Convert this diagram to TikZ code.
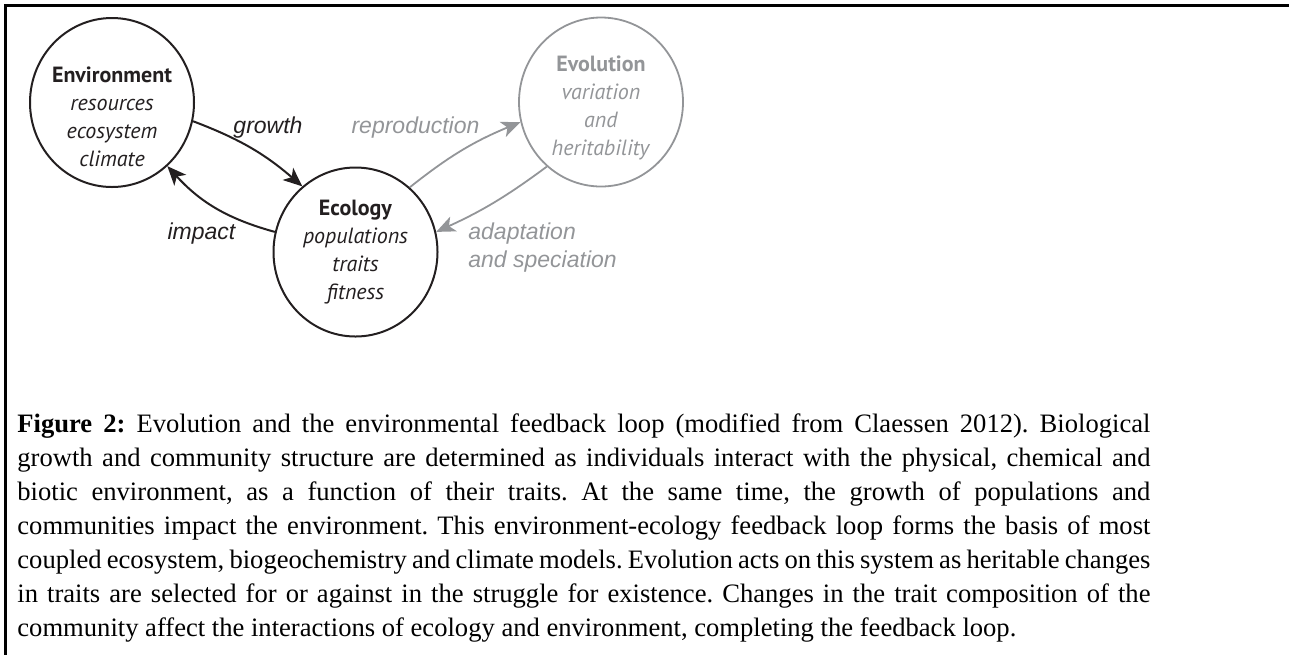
\documentclass[tikz,border=0pt]{standalone}
\usepackage{fontspec}
\setmainfont{Liberation Serif}
\newfontfamily\ringfont{PT Sans}
\newfontfamily\arrfont{Liberation Sans}
\usetikzlibrary{arrows.meta,shapes.geometric}
\definecolor{inkblack}{HTML}{231F20}
\definecolor{evogray}{HTML}{939598}
\frenchspacing

\begin{document}
\begin{tikzpicture}[x=0.5pt,y=-0.5pt,
    ring/.style={draw=inkblack, ellipse, line width=1pt, minimum width=82pt, minimum height=84.5pt, inner sep=0pt},
    ringtext/.style={align=center, inner sep=0pt, text=inkblack, font=\ringfont\fontsize{11}{14}\selectfont},
    arrlabel/.style={inner sep=0pt, text=inkblack, font=\arrfont\itshape\fontsize{11.5}{14}\selectfont},
    link/.style={draw=inkblack, line width=1pt, -{Stealth[length=9.5pt,width=8pt,inset=2.5pt]}},
    evo/.style={draw=evogray, text=evogray}]
    \useasboundingbox (0,0) rectangle (1289,655);
    \draw [line width=1.35pt] (1289,5.7) -- (5.7,5.7) -- (5.7,655);

    % environment - ecology loop
    \node [ring, name=env] at (112,102.5) {};
    \node [ringtext, name=envtxt] at (112,116.5) {\textbf{Environment}\\ \textit{resources}\\ \textit{ecosystem}\\ \textit{climate}};
    \node [ring, name=eco] at (355.5,252) {};
    \node [ringtext, name=ecotxt] at (355.5,252.5) {\textbf{Ecology}\\ \textit{populations}\\ \textit{traits}\\ \textit{fitness}};
    \draw [link] (env.-13.5) to [bend left=10] (eco.129.6);
    \draw [link] (eco.166) to [bend left=16] (env.-49.5);
    \node [arrlabel, anchor=base, name=grow] at (268,133) {growth};
    \node [arrlabel, anchor=base, name=imp] at (201.5,239) {impact};

    % evolution
    \node [ring, evo, line width=0.9pt, name=evol] at (601,102) {};
    \node [ringtext, evo, draw=none, name=evotxt] at (601,108.3) {\textbf{Evolution}\\ \textit{variation}\\ \textit{and}\\ \textit{heritability}};
    \draw [link, evo, line width=0.9pt] (eco.50) to [bend left=8] (evol.194);
    \draw [link, evo, line width=0.9pt] (evol.230) to [bend left=6] (eco.14);
    \node [arrlabel, evo, draw=none, anchor=base, name=repro] at (415.5,133) {reproduction};
    \node [arrlabel, evo, draw=none, align=left, anchor=north west, name=adapt] at (468,222) {adaptation\\ and speciation};

    % caption
    \node [anchor=north west, inner sep=0pt, text width=566.5pt, align=justify, font={\fontsize{13.3}{17}\selectfont\spaceskip=0.25em plus 0.3em minus 0.16em}, name=cap] at (17,413) {\textbf{Figure 2:} Evolution and the environmental feedback loop (modified from Claessen 2012). Biological\linebreak growth and community structure are determined as individuals interact with the physical, chemical and\linebreak biotic environment, as a function of their traits. At the same time, the growth of populations and\linebreak communities impact the environment. This environment-ecology feedback loop forms the basis of most\linebreak coupled ecosystem, biogeochemistry and climate models. Evolution acts on this system as heritable changes\linebreak in traits are selected for or against in the struggle for existence. Changes in the trait composition of the\linebreak community affect the interactions of ecology and environment, completing the feedback loop.};
\end{tikzpicture}
\end{document}
